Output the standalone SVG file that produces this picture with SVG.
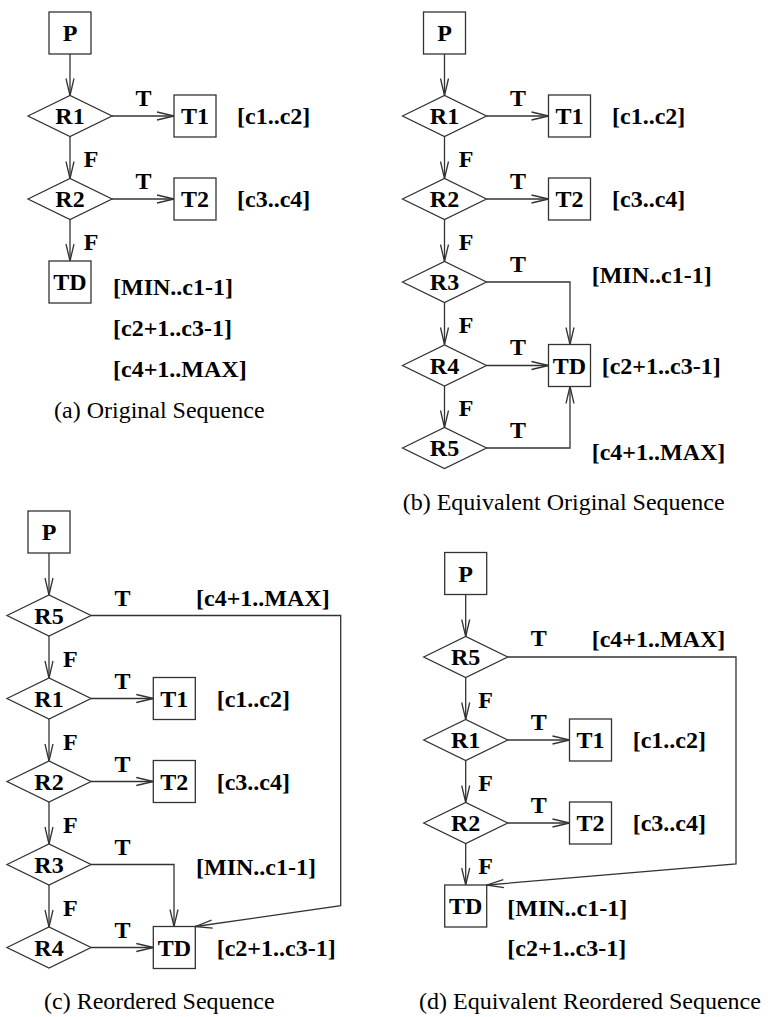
<svg xmlns="http://www.w3.org/2000/svg" width="771" height="1017" viewBox="0 0 771 1017">
<style>
.box{fill:#fff;stroke:#333;stroke-width:1.3}
.con{fill:none;stroke:#333;stroke-width:1.3;marker-end:url(#ah)}
.ln{fill:none;stroke:#333;stroke-width:1.3}
text{font-family:"Liberation Serif","Times New Roman",serif;fill:#000}
.b{font-weight:bold;font-size:24px}
.m{text-anchor:middle}
.cap{font-size:24px}
</style>
<defs>
<marker id="ah" markerUnits="userSpaceOnUse" markerWidth="20" markerHeight="10" viewBox="-18 -5 20 10" refX="0" refY="0" orient="auto" overflow="visible">
<path d="M-17,-4 L0,0 L-17,4" fill="none" stroke="#333" stroke-width="1.3"/>
</marker>
</defs>
<rect width="771" height="1017" fill="#fff"/>

<!-- connectors -->
<g id="connectors">
<!-- (a) -->
<path class="con" d="M70,54 V95.5"/>
<path class="con" d="M112,116 H174"/>
<path class="con" d="M70,136.5 V178.5"/>
<path class="con" d="M112,199 H174"/>
<path class="con" d="M70,219.5 V261"/>
<!-- (b) -->
<path class="con" d="M444.5,54 V95.5"/>
<path class="con" d="M486.5,116 H548.5"/>
<path class="con" d="M444.5,136.5 V178.5"/>
<path class="con" d="M486.5,199 H548.5"/>
<path class="con" d="M444.5,219.5 V261.5"/>
<path class="con" d="M486.5,282 H570 V344.5"/>
<path class="con" d="M444.5,302.5 V344.5"/>
<path class="con" d="M486.5,365.5 H548.5"/>
<path class="con" d="M444.5,386 V427.5"/>
<path class="con" d="M486.5,448 H570 V386.5"/>
<!-- (c) -->
<path class="con" d="M49,553 V595"/>
<path class="con" d="M91,615.5 H340.7 V905.7 L195.3,926.5"/>
<path class="con" d="M49,636 V678"/>
<path class="con" d="M91,698.5 H153.3"/>
<path class="con" d="M49,719 V761"/>
<path class="con" d="M91,781.5 H153.3"/>
<path class="con" d="M49,802 V844"/>
<path class="con" d="M91,864.5 H174 V926.5"/>
<path class="con" d="M49,885 V927"/>
<path class="con" d="M91,947.5 H153.3"/>
<!-- (d) -->
<path class="con" d="M465.7,594.5 V636.5"/>
<path class="con" d="M507.7,657 H736 V864 L486.7,885"/>
<path class="con" d="M465.7,677.5 V719.5"/>
<path class="con" d="M507.7,740 H569.5"/>
<path class="con" d="M465.7,760.5 V802.5"/>
<path class="con" d="M507.7,823 H569.5"/>
<path class="con" d="M465.7,843.5 V885"/>
</g>

<!-- connector labels and ranges (a) -->
<g id="labels-a" class="b">
<text x="143.5" y="106" class="m">T</text>
<text x="91" y="167" class="m">F</text>
<text x="143.5" y="189" class="m">T</text>
<text x="91" y="250" class="m">F</text>
<text x="237" y="124">[c1..c2]</text>
<text x="237" y="207">[c3..c4]</text>
<text x="113" y="295">[MIN..c1-1]</text>
<text x="113" y="336">[c2+1..c3-1]</text>
<text x="113" y="377">[c4+1..MAX]</text>
</g>
<text class="cap" x="54" y="418">(a) Original Sequence</text>

<!-- nodes (a) -->
<g id="a-P"><rect class="box" x="49" y="12" width="42" height="42"/><text class="b m" x="70" y="41">P</text></g>
<g id="a-R1"><polygon class="box" points="28,116 70,95.5 112,116 70,136.5"/><text class="b m" x="70" y="124">R1</text></g>
<g id="a-T1"><rect class="box" x="174" y="95" width="42" height="42"/><text class="b m" x="195" y="124">T1</text></g>
<g id="a-R2"><polygon class="box" points="28,199 70,178.5 112,199 70,219.5"/><text class="b m" x="70" y="207">R2</text></g>
<g id="a-T2"><rect class="box" x="174" y="178" width="42" height="42"/><text class="b m" x="195" y="207">T2</text></g>
<g id="a-TD"><rect class="box" x="49" y="261" width="42" height="42"/><text class="b m" x="70" y="290">TD</text></g>

<!-- labels (b) -->
<g id="labels-b" class="b">
<text x="518" y="106" class="m">T</text>
<text x="466" y="167" class="m">F</text>
<text x="518" y="189" class="m">T</text>
<text x="466" y="250" class="m">F</text>
<text x="518" y="272" class="m">T</text>
<text x="466" y="333" class="m">F</text>
<text x="518" y="355" class="m">T</text>
<text x="466" y="416" class="m">F</text>
<text x="518" y="438" class="m">T</text>
<text x="612" y="124">[c1..c2]</text>
<text x="612" y="207">[c3..c4]</text>
<text x="591.7" y="283">[MIN..c1-1]</text>
<text x="601.7" y="374">[c2+1..c3-1]</text>
<text x="591.7" y="460">[c4+1..MAX]</text>
</g>
<text class="cap" x="402.7" y="510">(b) Equivalent Original Sequence</text>

<!-- nodes (b) -->
<g id="b-P"><rect class="box" x="423.5" y="12" width="42" height="42"/><text class="b m" x="444.5" y="41">P</text></g>
<g id="b-R1"><polygon class="box" points="402.5,116 444.5,95.5 486.5,116 444.5,136.5"/><text class="b m" x="444.5" y="124">R1</text></g>
<g id="b-T1"><rect class="box" x="548.5" y="95" width="42" height="42"/><text class="b m" x="569.5" y="124">T1</text></g>
<g id="b-R2"><polygon class="box" points="402.5,199 444.5,178.5 486.5,199 444.5,219.5"/><text class="b m" x="444.5" y="207">R2</text></g>
<g id="b-T2"><rect class="box" x="548.5" y="178" width="42" height="42"/><text class="b m" x="569.5" y="207">T2</text></g>
<g id="b-R3"><polygon class="box" points="402.5,282 444.5,261.5 486.5,282 444.5,302.5"/><text class="b m" x="444.5" y="290">R3</text></g>
<g id="b-R4"><polygon class="box" points="402.5,365.5 444.5,345 486.5,365.5 444.5,386"/><text class="b m" x="444.5" y="373.5">R4</text></g>
<g id="b-TD"><rect class="box" x="548.5" y="344.5" width="42" height="42"/><text class="b m" x="569.5" y="373.5">TD</text></g>
<g id="b-R5"><polygon class="box" points="402.5,448 444.5,427.5 486.5,448 444.5,468.5"/><text class="b m" x="444.5" y="456">R5</text></g>

<!-- labels (c) -->
<g id="labels-c" class="b">
<text x="122.5" y="605.5" class="m">T</text>
<text x="70.3" y="666.5" class="m">F</text>
<text x="122.5" y="688.5" class="m">T</text>
<text x="70.3" y="749.5" class="m">F</text>
<text x="122.5" y="771.5" class="m">T</text>
<text x="70.3" y="832.5" class="m">F</text>
<text x="122.5" y="854.5" class="m">T</text>
<text x="70.3" y="915.5" class="m">F</text>
<text x="122.5" y="937.5" class="m">T</text>
<text x="196" y="606">[c4+1..MAX]</text>
<text x="216.7" y="707">[c1..c2]</text>
<text x="216.7" y="790">[c3..c4]</text>
<text x="196" y="875">[MIN..c1-1]</text>
<text x="216.7" y="956">[c2+1..c3-1]</text>
</g>
<text class="cap" x="44" y="1009">(c) Reordered Sequence</text>

<!-- nodes (c) -->
<g id="c-P"><rect class="box" x="28" y="511" width="42" height="42"/><text class="b m" x="49" y="540">P</text></g>
<g id="c-R5"><polygon class="box" points="7,615.5 49,595 91,615.5 49,636"/><text class="b m" x="49" y="623.5">R5</text></g>
<g id="c-R1"><polygon class="box" points="7,698.5 49,678 91,698.5 49,719"/><text class="b m" x="49" y="706.5">R1</text></g>
<g id="c-T1"><rect class="box" x="153.3" y="677.5" width="42" height="42"/><text class="b m" x="174.3" y="706.5">T1</text></g>
<g id="c-R2"><polygon class="box" points="7,781.5 49,761 91,781.5 49,802"/><text class="b m" x="49" y="789.5">R2</text></g>
<g id="c-T2"><rect class="box" x="153.3" y="760.5" width="42" height="42"/><text class="b m" x="174.3" y="789.5">T2</text></g>
<g id="c-R3"><polygon class="box" points="7,864.5 49,844 91,864.5 49,885"/><text class="b m" x="49" y="872.5">R3</text></g>
<g id="c-R4"><polygon class="box" points="7,947.5 49,927 91,947.5 49,968"/><text class="b m" x="49" y="955.5">R4</text></g>
<g id="c-TD"><rect class="box" x="153.3" y="926.5" width="42" height="42"/><text class="b m" x="174.3" y="955.5">TD</text></g>

<!-- labels (d) -->
<g id="labels-d" class="b">
<text x="538.7" y="646" class="m">T</text>
<text x="485.5" y="708" class="m">F</text>
<text x="538.7" y="730" class="m">T</text>
<text x="485.5" y="791" class="m">F</text>
<text x="538.7" y="813" class="m">T</text>
<text x="485.5" y="874" class="m">F</text>
<text x="591.7" y="647">[c4+1..MAX]</text>
<text x="632.7" y="748">[c1..c2]</text>
<text x="632.7" y="831">[c3..c4]</text>
<text x="507.3" y="916">[MIN..c1-1]</text>
<text x="507.3" y="956">[c2+1..c3-1]</text>
</g>
<text class="cap" x="419" y="1009">(d) Equivalent Reordered Sequence</text>

<!-- nodes (d) -->
<g id="d-P"><rect class="box" x="444.7" y="552.5" width="42" height="42"/><text class="b m" x="465.7" y="581.5">P</text></g>
<g id="d-R5"><polygon class="box" points="423.7,657 465.7,636.5 507.7,657 465.7,677.5"/><text class="b m" x="465.7" y="665">R5</text></g>
<g id="d-R1"><polygon class="box" points="423.7,740 465.7,719.5 507.7,740 465.7,760.5"/><text class="b m" x="465.7" y="748">R1</text></g>
<g id="d-T1"><rect class="box" x="569.5" y="719" width="42" height="42"/><text class="b m" x="590.5" y="748">T1</text></g>
<g id="d-R2"><polygon class="box" points="423.7,823 465.7,802.5 507.7,823 465.7,843.5"/><text class="b m" x="465.7" y="831">R2</text></g>
<g id="d-T2"><rect class="box" x="569.5" y="802" width="42" height="42"/><text class="b m" x="590.5" y="831">T2</text></g>
<g id="d-TD"><rect class="box" x="444.7" y="885" width="42" height="42"/><text class="b m" x="465.7" y="914">TD</text></g>
</svg>
